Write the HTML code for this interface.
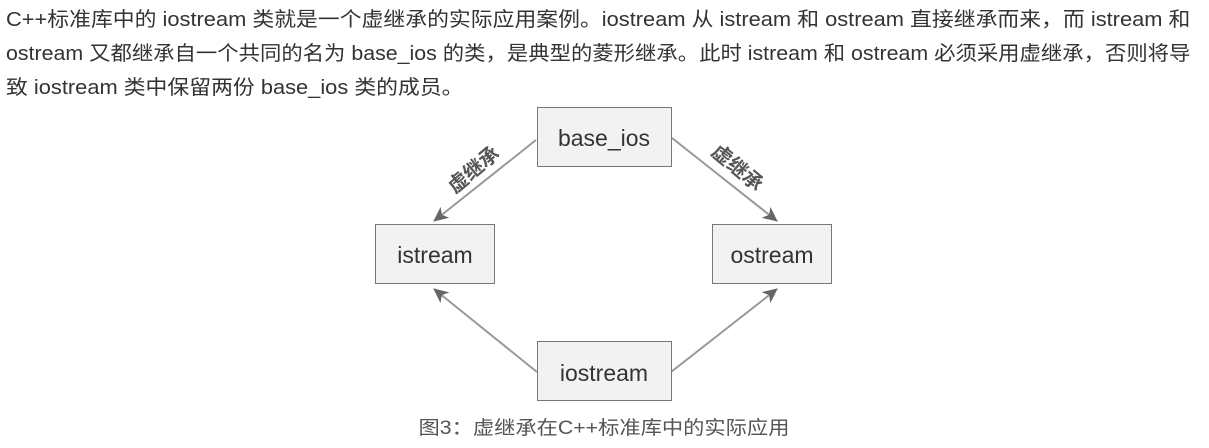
<!DOCTYPE html>
<html><head><meta charset="utf-8"><style>
body{margin:0;width:1209px;height:448px;background:#fff;position:relative;overflow:hidden;font-family:"Liberation Sans","Noto Sans CJK SC",sans-serif;color:#333}
.t{position:absolute;left:6px;font-size:20px;white-space:nowrap;line-height:34px;transform:scaleX(1.092);transform-origin:0 0}
</style></head><body>
<div class="t" style="top:3px">C++标准库中的 iostream 类就是一个虚继承的实际应用案例。iostream 从 istream 和 ostream 直接继承而来，而 istream 和</div>
<div class="t" style="top:37px;transform:scaleX(1.068)">ostream 又都继承自一个共同的名为 base_ios 的类，是典型的菱形继承。此时 istream 和 ostream 必须采用虚继承，否则将导</div>
<div class="t" style="top:71px">致 iostream 类中保留两份 base_ios 类的成员。</div>
<svg width="1209" height="448" style="position:absolute;left:0;top:0">
<defs><marker id="a" markerWidth="16" markerHeight="14" refX="14" refY="7" orient="auto" markerUnits="userSpaceOnUse"><path d="M0,0 L15,7 L0,14 L4,7z" fill="#666"/></marker></defs>
<g stroke="#999" stroke-width="2" fill="none" marker-end="url(#a)">
<line x1="536" y1="140" x2="434" y2="221"/>
<line x1="672" y1="138" x2="777" y2="221"/>
<line x1="537" y1="372" x2="434" y2="289"/>
<line x1="671" y1="372" x2="777" y2="289"/>
</g>
<g fill="#f2f2f2" stroke="#777" stroke-width="1">
<rect x="537.5" y="107.5" width="134" height="59"/>
<rect x="375.5" y="224.5" width="119" height="59"/>
<rect x="712.5" y="224.5" width="119" height="59"/>
<rect x="537.5" y="341.5" width="134" height="59"/>
</g>
<g font-family="Liberation Sans,sans-serif" font-size="23" fill="#333" text-anchor="middle">
<text x="604" y="146">base_ios</text>
<text x="435" y="263">istream</text>
<text x="772" y="263">ostream</text>
<text x="604" y="381">iostream</text>
</g>
<g font-family="Noto Sans CJK SC,sans-serif" font-size="20" font-weight="bold" fill="#555" text-anchor="middle">
<text transform="translate(478,175) rotate(-40)">虚继承</text>
<text transform="translate(733,173) rotate(40)">虚继承</text>
</g>
<text x="604" y="434" text-anchor="middle" font-family="Liberation Sans,Noto Sans CJK SC,sans-serif" font-size="19" fill="#555" transform="translate(604,0) scale(1.12,1) translate(-604,0)">图3：虚继承在C++标准库中的实际应用</text>
</svg>
</body></html>
